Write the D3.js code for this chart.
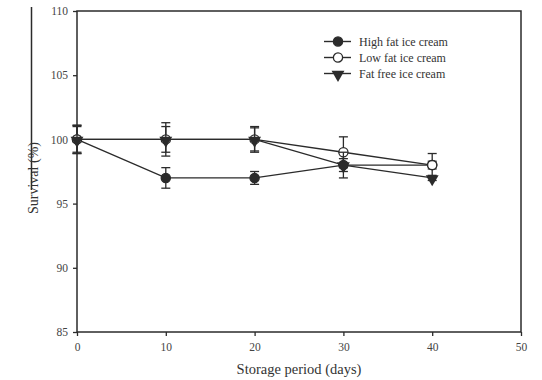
<!DOCTYPE html>
<html>
<head>
    <script src="https://d3js.org/d3.v7.min.js"></script>
    <style>
        body { margin: 0; background: #fff; }
        text { font-family: "Liberation Serif", "Times New Roman", serif; }
    </style>
</head>
<body>
<div id="chart"></div>
<script>
    // data
    var days = [0, 10, 20, 30, 40];
    var highFat = [100, 97, 97, 98, 98];
    var highFatErr = [1.1, 0.8, 0.5, 0.5, 0.3];
    var lowFat = [100, 100, 100, 99, 98];
    var lowFatErr = [1.0, 1.3, 1.0, 1.2, 0.9];
    var fatFree = [100, 100, 100, 98, 97];
    var fatFreeErr = [1.1, 1.0, 0.9, 1.0, 0.2];
    var xTicks = [0, 10, 20, 30, 40, 50];
    var yTicks = [85, 90, 95, 100, 105, 110];

    var series = [
        { name: "High fat ice cream", vals: highFat, err: highFatErr, marker: "filled" },
        { name: "Low fat ice cream", vals: lowFat, err: lowFatErr, marker: "open" },
        { name: "Fat free ice cream", vals: fatFree, err: fatFreeErr, marker: "triangle" }
    ];

    var margin = { top: 11, right: 21, bottom: 48, left: 77 };
    var width = 542 - margin.left - margin.right;
    var height = 380 - margin.top - margin.bottom;
    var ink = "#2b2b2b";

    var root = d3.select("#chart").append("svg")
        .attr("width", 542)
        .attr("height", 380);

    // stray rule left of the y title (present in the scan)
    root.append("line")
        .attr("x1", 31.5).attr("x2", 31.5)
        .attr("y1", 7).attr("y2", 190)
        .attr("stroke", ink).attr("stroke-width", 1.5);

    var svg = root.append("g")
        .attr("transform", "translate(" + margin.left + "," + margin.top + ")");

    var x = d3.scaleLinear().domain([0, 50]).range([0, width]);
    var y = d3.scaleLinear().domain([85, 110]).range([height, 0]);

    // frame
    svg.append("rect")
        .attr("width", width).attr("height", height)
        .attr("fill", "none").attr("stroke", ink).attr("stroke-width", 1.5);

    // axes
    var xAxis = svg.append("g")
        .attr("transform", "translate(0," + height + ")")
        .call(d3.axisBottom(x).tickValues(xTicks).tickSize(4).tickPadding(7));
    var yAxis = svg.append("g")
        .call(d3.axisLeft(y).tickValues(yTicks).tickSize(4).tickPadding(5));

    [xAxis, yAxis].forEach(function (a) {
        a.select(".domain").remove();
        a.selectAll("line").attr("stroke", ink).attr("stroke-width", 1.3);
        a.selectAll("text")
            .attr("fill", "#444")
            .style("font-size", "11.5px")
            .style("font-family", "'Liberation Serif', serif");
    });

    // axis titles
    svg.append("text")
        .attr("x", width / 2)
        .attr("y", height + 42)
        .attr("text-anchor", "middle")
        .attr("fill", "#333")
        .style("font-size", "14.5px")
        .text("Storage period (days)");

    svg.append("text")
        .attr("transform", "rotate(-90)")
        .attr("x", -167)
        .attr("y", -39)
        .attr("text-anchor", "middle")
        .attr("fill", "#333")
        .style("font-size", "14px")
        .text("Survival (%)");

    var line = d3.line()
        .x(function (d, i) { return x(days[i]); })
        .y(function (d) { return y(d); });

    var tri = d3.symbol().type(d3.symbolTriangle).size(72);

    function drawMarker(g, kind, cx, cy) {
        if (kind === "triangle") {
            g.append("path")
                .attr("d", tri())
                .attr("transform", "translate(" + cx + "," + (cy + 1) + ") rotate(180)")
                .attr("fill", ink);
        } else {
            g.append("circle")
                .attr("cx", cx).attr("cy", cy).attr("r", 4.6)
                .attr("fill", kind === "filled" ? ink : "#fff")
                .attr("stroke", ink).attr("stroke-width", 1.3);
        }
    }

    series.forEach(function (s) {
        var g = svg.append("g");

        g.append("path")
            .datum(s.vals)
            .attr("d", line)
            .attr("fill", "none")
            .attr("stroke", ink)
            .attr("stroke-width", 1.4);

        // error bars
        s.vals.forEach(function (v, i) {
            var cx = x(days[i]);
            var top = y(v + s.err[i]), bot = y(v - s.err[i]);
            g.append("line")
                .attr("x1", cx).attr("x2", cx).attr("y1", top).attr("y2", bot)
                .attr("stroke", ink).attr("stroke-width", 1.3);
            [top, bot].forEach(function (yy) {
                g.append("line")
                    .attr("x1", cx - 4.5).attr("x2", cx + 4.5)
                    .attr("y1", yy).attr("y2", yy)
                    .attr("stroke", ink).attr("stroke-width", 1.3);
            });
        });

        s.vals.forEach(function (v, i) {
            drawMarker(g, s.marker, x(days[i]), y(v));
        });
    });

    // legend
    var legend = svg.append("g")
        .attr("transform", "translate(" + (324 - margin.left) + "," + (41.5 - margin.top) + ")");

    series.forEach(function (s, i) {
        var row = legend.append("g").attr("transform", "translate(0," + (i * 16) + ")");
        row.append("line")
            .attr("x1", 0).attr("x2", 27).attr("y1", 0).attr("y2", 0)
            .attr("stroke", ink).attr("stroke-width", 1.4);
        drawMarker(row, s.marker, 14, 0);
        row.append("text")
            .attr("x", 35)
            .attr("y", 4)
            .attr("fill", "#333")
            .style("font-size", "12px")
            .text(s.name);
    });
</script>
</body>
</html>
